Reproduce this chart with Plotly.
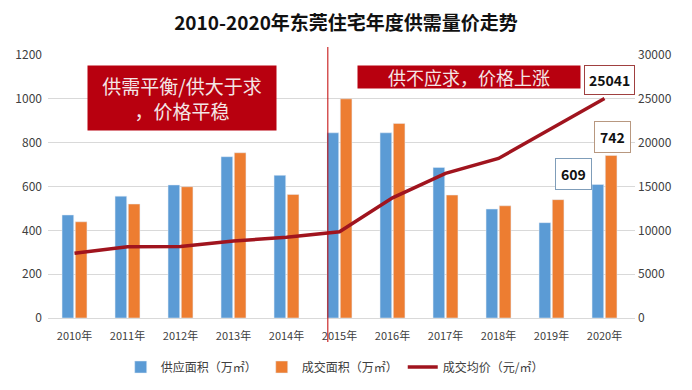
import plotly.graph_objects as go

years = ["2010年", "2011年", "2012年", "2013年", "2014年", "2015年",
         "2016年", "2017年", "2018年", "2019年", "2020年"]
supply = [470, 556, 607, 736, 651, 845, 845, 687, 497, 435, 609]
deal = [439, 520, 599, 754, 564, 1000, 888, 561, 512, 540, 742]
price = [7380, 8130, 8150, 8780, 9200, 9840, 13700, 16500, 18200, 21600, 25041]

font_family = "Noto Sans CJK SC, Noto Sans, sans-serif"

fig = go.Figure()
fig.add_trace(go.Bar(x=years, y=supply, name="供应面积（万㎡）",
                     marker_color="#5B9BD5"))
fig.add_trace(go.Bar(x=years, y=deal, name="成交面积（万㎡）",
                     marker_color="#ED7D31"))
fig.add_trace(go.Scatter(x=years, y=price, name="成交均价（元/㎡）", yaxis="y2",
                         mode="lines", line=dict(color="#A0141E", width=3.5)))

W, H = 692, 390
OFF = 8  # page body offset
# plot area in screen coordinates
SL, SR, ST, SB = 48, 635, 55, 318
pw, ph = SR - SL, SB - ST

def px(x):
    return (x - SL) / pw

def py(y):
    return (SB - y) / ph

annotations = [
    dict(text="供需平衡/供大于求<br>，价格平稳", xref="paper", yref="paper",
         x=px(182), y=py(98), xanchor="center", yanchor="middle",
         showarrow=False, bgcolor="#B8000F",
         width=188, height=64, borderpad=0,
         font=dict(color="#F4E6E6", size=19, family=font_family)),
    dict(text="供不应求，价格上涨", xref="paper", yref="paper",
         x=px(469), y=py(77), xanchor="center", yanchor="middle",
         showarrow=False, bgcolor="#B8000F",
         width=222, height=22, borderpad=0,
         font=dict(color="#F4E6E6", size=18, family=font_family)),
    dict(text="<b>%d</b>" % price[-1], x=years[-1], y=price[-1], yref="y2",
         xanchor="center", yanchor="middle",
         showarrow=False, xshift=5, yshift=18, bgcolor="white",
         bordercolor="#A04040", borderwidth=1, borderpad=4,
         font=dict(color="#111", size=14, family=font_family)),
    dict(text="<b>%d</b>" % deal[-1], x=years[-1], y=deal[-1], yref="y",
         xanchor="center", yanchor="middle",
         showarrow=False, xshift=7.5, yshift=18, bgcolor="white",
         bordercolor="#B89880", borderwidth=1, borderpad=5,
         font=dict(color="#111", size=14, family=font_family)),
    dict(text="<b>%d</b>" % supply[-1], x=years[-1], y=supply[-1], yref="y",
         xanchor="center", yanchor="middle",
         showarrow=False, xshift=-31.5, yshift=10.5, bgcolor="white",
         bordercolor="#7F9DB9", borderwidth=1, borderpad=5,
         font=dict(color="#111", size=14, family=font_family)),
]

fig.update_layout(
    width=W, height=H,
    margin=dict(l=SL - OFF, r=W - (SR - OFF), t=ST - OFF, b=H - (SB - OFF),
                autoexpand=False),
    paper_bgcolor="white", plot_bgcolor="white",
    title=dict(text="<b>2010-2020年东莞住宅年度供需量价走势</b>", x=0.5 - OFF / W,
               y=1 - (23 - OFF) / H, xanchor="center", yanchor="middle",
               font=dict(size=19, color="#111", family=font_family)),
    font=dict(family=font_family, color="#404040"),
    barmode="group", bargap=0.5, bargroupgap=0.12,
    xaxis=dict(type="category", showgrid=False, showline=True, automargin=False,
               linecolor="#D9D9D9", ticks="", ticklabelstandoff=8,
               tickfont=dict(size=11, color="#404040")),
    yaxis=dict(range=[0, 1200], dtick=200, showgrid=True, gridcolor="#D9D9D9",
               zeroline=False, ticks="", automargin=False, ticklabelstandoff=5,
               tickfont=dict(size=12, color="#404040")),
    yaxis2=dict(range=[0, 30000], dtick=5000, overlaying="y", side="right",
                showgrid=False, zeroline=False, ticks="", automargin=False,
                tickformat="d", ticklabelstandoff=2,
                tickfont=dict(size=12, color="#404040")),
    legend=dict(orientation="h", x=0.5 - OFF / W, xanchor="center", y=py(367),
                yanchor="middle", font=dict(size=12, color="#404040"),
                traceorder="normal"),
    annotations=annotations,
    shapes=[dict(type="line", xref="x", yref="paper", x0=4.78, x1=4.78,
                 y0=py(342), y1=py(47), line=dict(color="#C00000", width=1))],
)

fig.write_html("out.html")
